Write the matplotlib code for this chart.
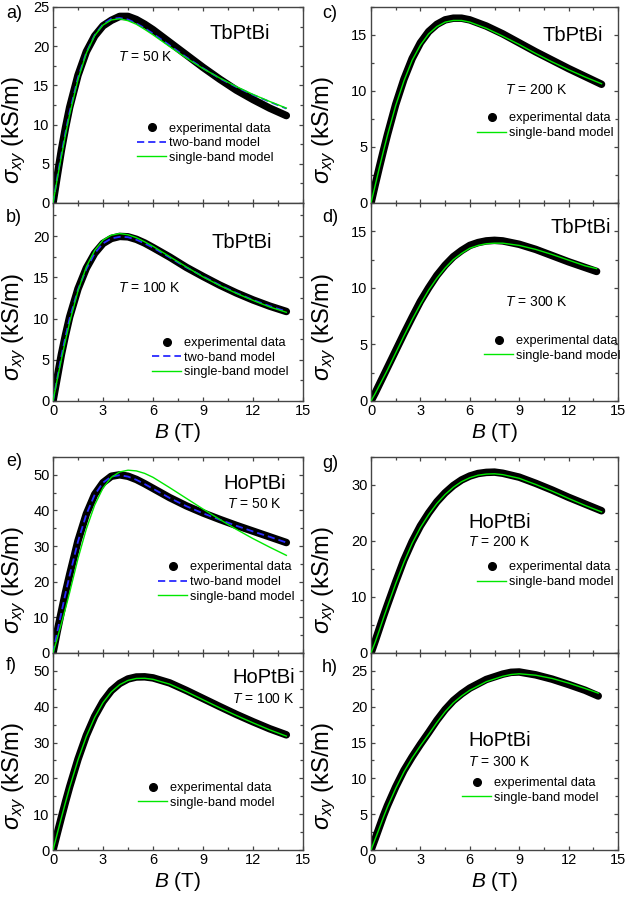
import matplotlib
matplotlib.use("Agg")
import matplotlib.pyplot as plt
from matplotlib.lines import Line2D
from matplotlib.ticker import MultipleLocator

plt.rcParams['font.family'] = ['Liberation Sans', 'DejaVu Sans']
plt.rcParams['mathtext.fontset'] = 'custom'
plt.rcParams['mathtext.rm'] = 'Liberation Sans'
plt.rcParams['mathtext.it'] = 'Liberation Sans:italic'
plt.rcParams['mathtext.bf'] = 'Liberation Sans:bold'

# ---- magnetic field grids (T) ----
B_FIELD = [0, 0.25, 0.5, 0.75, 1, 1.5, 2, 2.5, 3, 3.5, 4, 4.5, 5, 5.5, 6,
           7, 8, 9, 10, 11, 12, 13, 14]
B_FIELD_D = [0, 0.25, 0.5, 0.75, 1, 1.5, 2, 2.5, 3, 3.5, 4, 4.5, 5, 5.5, 6,
             6.5, 7, 7.5, 8, 9, 10, 11, 12, 13, 13.7]
B_FIELD_G = [0, 0.25, 0.5, 0.75, 1, 1.5, 2, 2.5, 3, 3.5, 4, 4.5, 5, 5.5, 6,
             6.5, 7, 7.5, 8, 9, 10, 11, 12, 13, 14]
B_FIELD_H = [0, 0.25, 0.5, 0.75, 1, 1.5, 2, 2.5, 3, 3.5, 4, 4.5, 5, 5.5, 6,
             7, 8, 8.5, 9, 10, 11, 12, 13, 13.8]

# ---- TbPtBi, Hall conductivity (kS/m) ----
tb50_exp = [0, 3.4, 6.7, 9.6, 12.2, 16.3, 19.3, 21.3, 22.6, 23.3, 23.8, 23.8, 23.4,
            22.8, 22.1, 20.5, 18.9, 17.3, 15.8, 14.4, 13.2, 12.1, 11.15]
tb50_two = [0, 3.2, 6.2, 9.0, 11.6, 16.0, 19.2, 21.4, 22.8, 23.5, 23.6, 23.4, 22.9,
            22.3, 21.6, 20.1, 18.6, 17.2, 15.9, 14.8, 13.8, 12.9, 12.05]
tb50_single = [0, 3.0, 5.9, 8.7, 11.3, 15.75, 19.1, 21.35, 22.7, 23.35, 23.5, 23.25,
               22.8, 22.15, 21.45, 19.95, 18.5, 17.15, 15.95, 14.85, 13.85, 12.95, 12.1]

tb100_exp = [0, 2.8, 5.6, 8.0, 10.2, 13.6, 16.1, 17.9, 19.1, 19.7, 19.95, 19.9, 19.6,
             19.15, 18.6, 17.45, 16.2, 15.1, 14.05, 13.1, 12.25, 11.5, 10.85]
tb100_two = [0, 2.7, 5.4, 7.8, 10.0, 13.5, 16.0, 17.9, 19.1, 19.7, 19.9, 19.85, 19.55,
             19.1, 18.6, 17.4, 16.2, 15.1, 14.05, 13.1, 12.25, 11.5, 10.85]
tb100_single = [0, 2.55, 5.0, 7.35, 9.55, 13.35, 16.25, 18.25, 19.5, 20.1, 20.3, 20.15,
                19.8, 19.3, 18.75, 17.5, 16.25, 15.05, 14.0, 13.05, 12.2, 11.4, 10.75]

tb200_exp = [0, 1.6, 3.15, 4.65, 6.1, 8.8, 11.05, 12.9, 14.3, 15.3, 15.95, 16.35, 16.5,
             16.5, 16.35, 15.8, 15.1, 14.3, 13.5, 12.75, 12.0, 11.3, 10.6]
tb200_single = [0, 1.55, 3.1, 4.6, 6.05, 8.7, 10.9, 12.75, 14.1, 15.1, 15.75, 16.15, 16.3,
                16.3, 16.15, 15.6, 14.9, 14.15, 13.35, 12.6, 11.9, 11.25, 10.65]

tb300_exp = [0, 0.7, 1.45, 2.2, 2.95, 4.45, 5.95, 7.4, 8.8, 10.0, 11.1, 12.0, 12.75,
             13.3, 13.75, 14.0, 14.15, 14.2, 14.15, 13.85, 13.4, 12.85, 12.3, 11.8, 11.45]
tb300_single = [0, 0.65, 1.35, 2.05, 2.75, 4.25, 5.75, 7.2, 8.55, 9.8, 10.85, 11.75, 12.5,
                13.05, 13.5, 13.75, 13.9, 13.95, 13.95, 13.75, 13.4, 12.95, 12.45, 11.95, 11.7]

# ---- HoPtBi, Hall conductivity (kS/m) ----
ho50_exp = [0, 6.0, 11.5, 17.0, 22.0, 31.5, 39.0, 44.5, 47.8, 49.6, 50.0, 49.6, 48.7,
            47.5, 46.2, 43.6, 41.3, 39.3, 37.5, 35.8, 34.2, 32.6, 31.0]
ho50_two = [0, 5.8, 11.3, 16.7, 21.8, 31.3, 38.9, 44.4, 47.8, 49.5, 49.9, 49.5, 48.6,
            47.4, 46.1, 43.5, 41.2, 39.2, 37.4, 35.7, 34.1, 32.6, 31.0]
ho50_single = [0, 4.0, 8.2, 12.5, 17.0, 26.5, 34.8, 41.5, 46.3, 49.3, 50.8, 51.3, 51.1,
               50.4, 49.3, 46.4, 43.4, 40.4, 37.5, 34.7, 32.1, 29.7, 27.4]

ho100_exp = [0, 4.55, 9.05, 13.45, 17.65, 25.35, 31.95, 37.3, 41.45, 44.5, 46.5, 47.75,
             48.3, 48.35, 48.05, 46.65, 44.55, 42.3, 40.05, 37.85, 35.8, 33.85, 32.15]
ho100_single = [0, 4.5, 8.95, 13.3, 17.5, 25.15, 31.7, 37.0, 41.15, 44.15, 46.15, 47.35,
                47.9, 47.95, 47.65, 46.3, 44.2, 41.95, 39.7, 37.55, 35.5, 33.55, 31.8]

ho200_exp = [0, 2.1, 4.3, 6.5, 8.6, 12.7, 16.6, 19.9, 22.7, 25.0, 27.0, 28.6, 29.9,
             30.9, 31.6, 32.05, 32.25, 32.3, 32.1, 31.4, 30.3, 29.1, 27.8, 26.6, 25.4]
ho200_single = [0, 1.9, 4.0, 6.2, 8.3, 12.4, 16.2, 19.6, 22.4, 24.7, 26.7, 28.3, 29.6,
                30.6, 31.3, 31.75, 31.95, 32.0, 31.85, 31.2, 30.1, 28.9, 27.6, 26.35, 25.2]

ho300_exp = [0, 1.55, 3.15, 4.75, 6.2, 8.8, 11.1, 13.0, 14.75, 16.4, 18.1, 19.6, 20.85,
             21.8, 22.6, 23.8, 24.55, 24.8, 24.85, 24.45, 23.85, 23.1, 22.3, 21.5]
ho300_single = [0, 1.5, 3.0, 4.55, 6.0, 8.6, 10.9, 12.85, 14.55, 16.15, 17.8, 19.3, 20.55,
                21.5, 22.3, 23.5, 24.25, 24.5, 24.6, 24.4, 23.95, 23.3, 22.55, 21.9]

# ---- panel annotations ----
PANEL_TAGS = ['a)', 'b)', 'c)', 'd)', 'e)', 'f)', 'g)', 'h)']
COMPOUNDS = ['TbPtBi', 'TbPtBi', 'TbPtBi', 'TbPtBi', 'HoPtBi', 'HoPtBi', 'HoPtBi', 'HoPtBi']
TEMPS = ['$T$ = 50 K', '$T$ = 100 K', '$T$ = 200 K', '$T$ = 300 K',
         '$T$ = 50 K', '$T$ = 100 K', '$T$ = 200 K', '$T$ = 300 K']
LEGEND_LABELS = ['experimental data', 'two-band model', 'single-band model']

GREEN = '#00e800'
BLUE = '#2a2aff'
AXCOL = '#454545'

fig = plt.figure(figsize=(6.26, 9.0), dpi=100)

W, H = 626.0, 900.0
cols = {'L': (53, 303), 'R': (371, 618)}
rows = {'a': (7, 203), 'b': (203, 401), 'e': (457, 653), 'f': (653, 850)}
# right edge of the rotated y label, in axes fraction, per column
YLAB_X = {'L': -0.100, 'R': -0.132}


def make_axes(col, row):
    x0, x1 = cols[col]
    y0, y1 = rows[row]
    return fig.add_axes([x0 / W, 1 - y1 / H, (x1 - x0) / W, (y1 - y0) / H])


panels = [
    dict(pos=('L', 'a'), B=B_FIELD, exp=tb50_exp, two=tb50_two, single=tb50_single,
         ylim=25, ymaj=5, xlab=False, comp=(0.628, 0.865), temp=(0.262, 0.744),
         leg=(0.336, 0.41), tag=(6, 14)),
    dict(pos=('L', 'b'), B=B_FIELD, exp=tb100_exp, two=tb100_two, single=tb100_single,
         ylim=24, ymaj=5, xlab=True, comp=(0.636, 0.80), temp=(0.262, 0.57),
         leg=(0.396, 0.322), tag=(6, 218)),
    dict(pos=('R', 'a'), B=B_FIELD, exp=tb200_exp, two=None, single=tb200_single,
         ylim=17.5, ymaj=5, xlab=False, comp=(0.696, 0.856), temp=(0.543, 0.574),
         leg=(0.429, 0.462), tag=(322, 14)),
    dict(pos=('R', 'b'), B=B_FIELD_D, exp=tb300_exp, two=None, single=tb300_single,
         ylim=17.5, ymaj=5, xlab=True, comp=(0.725, 0.874), temp=(0.543, 0.50),
         leg=(0.457, 0.332), tag=(322, 218)),
    dict(pos=('L', 'e'), B=B_FIELD, exp=ho50_exp, two=ho50_two, single=ho50_single,
         ylim=55, ymaj=10, xlab=False, comp=(0.68, 0.867), temp=(0.695, 0.76),
         leg=(0.42, 0.467), tag=(6, 462)),
    dict(pos=('L', 'f'), B=B_FIELD, exp=ho100_exp, two=None, single=ho100_single,
         ylim=55, ymaj=10, xlab=True, comp=(0.716, 0.878), temp=(0.716, 0.766),
         leg=(0.34, 0.345), tag=(6, 665)),
    dict(pos=('R', 'e'), B=B_FIELD_G, exp=ho200_exp, two=None, single=ho200_single,
         ylim=35, ymaj=10, xlab=False, comp=(0.393, 0.668), temp=(0.393, 0.566),
         leg=(0.429, 0.467), tag=(322, 464)),
    dict(pos=('R', 'f'), B=B_FIELD_H, exp=ho300_exp, two=None, single=ho300_single,
         ylim=27.5, ymaj=5, xlab=True, comp=(0.393, 0.558), temp=(0.393, 0.447),
         leg=(0.368, 0.37), tag=(322, 667)),
]

for i, p in enumerate(panels):
    ax = make_axes(*p['pos'])
    ax.plot(p['B'], p['exp'], color='black', lw=5.4, solid_capstyle='round',
            solid_joinstyle='round', zorder=2)
    if p['two'] is not None:
        ax.plot(p['B'], p['two'], color=BLUE, lw=1.3, ls=(0, (4, 2.2)), zorder=3)
    ax.plot(p['B'], p['single'], color=GREEN, lw=1.0, zorder=4)

    ax.set_xlim(0, 15)
    ax.set_ylim(0, p['ylim'])
    ax.xaxis.set_major_locator(MultipleLocator(3))
    ax.xaxis.set_minor_locator(MultipleLocator(1.5))
    ax.yaxis.set_major_locator(MultipleLocator(p['ymaj']))
    ax.yaxis.set_minor_locator(MultipleLocator(p['ymaj'] / 2))
    ax.tick_params(which='both', direction='in', top=True, right=True,
                   color=AXCOL, width=0.9, labelsize=10.5, pad=2.5)
    ax.tick_params(which='major', length=3.2)
    ax.tick_params(which='minor', length=2.4)
    for sp in ax.spines.values():
        sp.set_color(AXCOL)
        sp.set_linewidth(1.0)

    if p['xlab']:
        ax.set_xlabel('$B$ (T)', fontsize=15, labelpad=2)
    else:
        ax.tick_params(axis='x', labelbottom=False)

    ax.set_ylabel(r'$\sigma_{xy}$ (kS/m)', fontsize=17)
    ax.yaxis.set_label_coords(YLAB_X[p['pos'][0]], 0.375)

    ax.text(p['comp'][0], p['comp'][1], COMPOUNDS[i], transform=ax.transAxes,
            fontsize=14.5, ha='left', va='center')
    ax.text(p['temp'][0], p['temp'][1], TEMPS[i], transform=ax.transAxes,
            fontsize=10, ha='left', va='center')

    handles = [Line2D([], [], color='black', marker='o', ms=5.5, ls='none')]
    labels = [LEGEND_LABELS[0]]
    if p['two'] is not None:
        handles.append(Line2D([], [], color=BLUE, lw=1.3, ls=(0, (4, 2.2))))
        labels.append(LEGEND_LABELS[1])
    handles.append(Line2D([], [], color=GREEN, lw=1.0))
    labels.append(LEGEND_LABELS[2])
    ax.legend(handles, labels, loc='upper left', bbox_to_anchor=p['leg'],
              frameon=False, fontsize=9.2, handlelength=2.3, handletextpad=0.2,
              labelspacing=0.2, borderpad=0, borderaxespad=0)

    fig.text(p['tag'][0] / W, 1 - p['tag'][1] / H, PANEL_TAGS[i],
             fontsize=13, ha='left', va='center')

fig.savefig('out.png', dpi=100)
